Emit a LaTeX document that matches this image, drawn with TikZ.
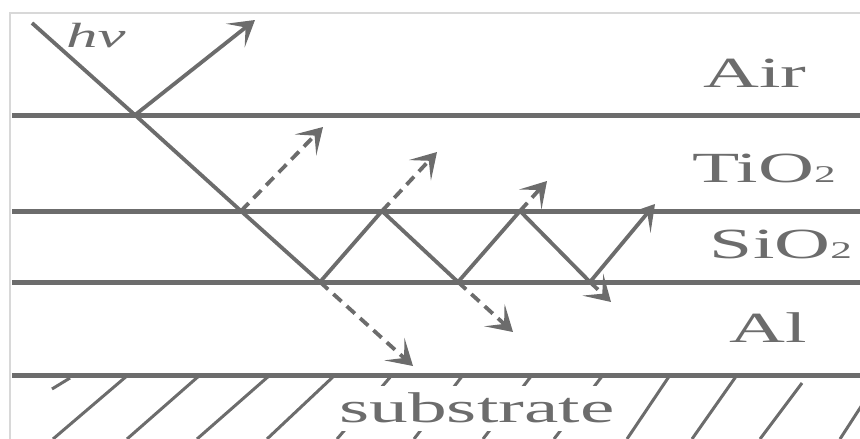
\documentclass[tikz,border=0pt]{standalone}
\usepackage{fontspec}
\setmainfont{Liberation Serif}
\usetikzlibrary{arrows.meta}
\definecolor{ink}{RGB}{108,108,108}
\definecolor{framec}{RGB}{216,216,216}
\newcommand{\wide}[1]{\scalebox{1.8}[1]{#1}}
\begin{document}
\begin{tikzpicture}[x=1pt,y=-1pt,
  layer/.style={draw=ink, line width=5pt},
  ray/.style={draw=ink, line width=3.8pt},
  aray/.style={ray, -{Stealth[length=25pt,width=30pt,inset=13pt]}},
  dray/.style={aray, dash pattern=on 11pt off 7pt},
  hatch/.style={draw=ink, line width=3pt},
  lab/.style={anchor=base, inner sep=0pt, text=ink, font=\fontsize{43}{50}\selectfont}]
\useasboundingbox (0,0) rectangle (860,439);
% frame
\draw[framec, line width=1.5pt] (10,439) -- (10,13) -- (860,13);
% hatching of the substrate
\foreach \a/\b/\c/\d in {70/378/52/389, 128/375/53/439, 200/375/127/439, 270/375/197/439,
  335/375/267/439, 392/375/337/439, 463/375/414/439, 532/375/483/439, 603/375/554/439,
  670/375/627/439, 737/375/692/439, 802/383/760/439, 862/405/840/439}
  \draw[hatch] (\a,\b) -- (\c,\d);
\fill[white] (333,386) rectangle (624,431);
\node[lab] (substrate) at (477,422) {\wide{substrate}};
% points
\coordinate (A0) at (32,23);
\coordinate (P1) at (135,115);
\coordinate (R1) at (255,20);
\coordinate (P2) at (241,211);
\coordinate (B1) at (320,282);
\coordinate (U1) at (382,211);
\coordinate (B2) at (458,282);
\coordinate (U2) at (520,211);
\coordinate (B3) at (590,282);
\coordinate (E)  at (655,204);
\coordinate (T1) at (323,127);
\coordinate (T2) at (437,152);
\coordinate (T3) at (547,181);
\coordinate (D1) at (413,366);
\coordinate (D2) at (513,332);
\coordinate (D3) at (611,302);
% layer boundaries
\draw[layer] (12,115) -- (860,115);
\draw[layer] (12,211) -- (860,211);
\draw[layer] (12,282) -- (860,282);
\draw[layer] (12,375) -- (860,375);
% rays
\draw[ray, line join=round] (A0) -- (P1) -- (P2) -- (B1) -- (U1) -- (B2) -- (U2) -- (B3);
\draw[aray] (P1) -- (R1);
\draw[aray] (B3) -- (E);
\draw[dray] (P2) -- (T1);
\draw[dray] (U1) -- (T2);
\draw[dray] (U2) -- (T3);
\draw[dray] (B1) -- (D1);
\draw[dray] (B2) -- (D2);
\draw[dray] (B3) -- (D3);
% labels
\node[lab, anchor=base west, font=\fontsize{35}{40}\selectfont] (hv) at (66,47) {\wide{\textit{hν}}};
\node[lab] (air) at (755,87) {\wide{Air}};
\node[lab] (tio) at (764,182) {\wide{TiO{\fontsize{24}{26}\selectfont 2}}};
\node[lab] (sio) at (781,258) {\wide{SiO{\fontsize{24}{26}\selectfont 2}}};
\node[lab] (al) at (768,342) {\wide{Al}};
\end{tikzpicture}
\end{document}
